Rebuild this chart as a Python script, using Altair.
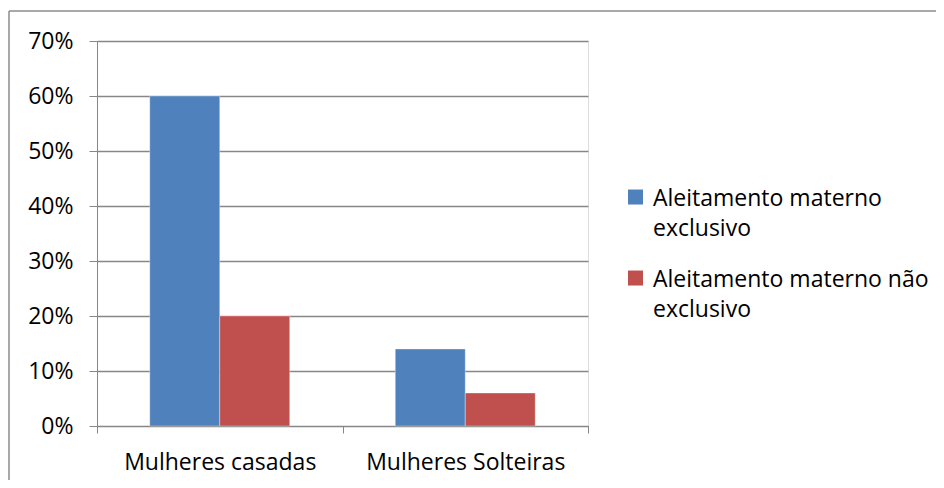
import altair as alt
import pandas as pd

categories = ["Mulheres casadas", "Mulheres Solteiras"]
series = ["Aleitamento materno exclusivo", "Aleitamento materno não exclusivo"]
exclusivo = [0.60, 0.14]
nao_exclusivo = [0.20, 0.06]
y_ticks = [0, 0.1, 0.2, 0.3, 0.4, 0.5, 0.6, 0.7]
colors = ["#4F81BD", "#C0504D"]

rows = []
for i, c in enumerate(categories):
    rows.append({"cat": c, "serie": series[0], "valor": exclusivo[i]})
    rows.append({"cat": c, "serie": series[1], "valor": nao_exclusivo[i]})
df = pd.DataFrame(rows)

FONT = "Open Sans"
FS = 23
GRAY = "#878787"

bars = alt.Chart(df).mark_bar(strokeWidth=1, strokeOpacity=0.35, stroke="white").encode(
    x=alt.X("cat:N", sort=categories, title=None,
            scale=alt.Scale(paddingInner=0, paddingOuter=0),
            axis=alt.Axis(labelAngle=0, tickBand="extent", tickSize=7, tickColor=GRAY,
                          domainColor=GRAY, labelFont=FONT, labelFontSize=FS,
                          labelColor="black", labelPadding=18, labelLimit=400,
                          grid=False)),
    xOffset=alt.XOffset("serie:N", sort=series,
                        scale=alt.Scale(paddingInner=0, paddingOuter=0.754)),
    y=alt.Y("valor:Q", title=None,
            scale=alt.Scale(domain=[0, 0.7], nice=False),
            axis=alt.Axis(values=y_ticks, format=".0%", tickSize=8, tickColor=GRAY,
                          domainColor=GRAY, gridColor=GRAY, gridWidth=1.3,
                          labelFont=FONT, labelFontSize=FS, labelColor="black",
                          labelPadding=16)),
    color=alt.Color("serie:N", sort=series,
                    scale=alt.Scale(domain=series, range=colors),
                    legend=alt.Legend(
                        title=None, orient="none", legendX=527, legendY=135,
                        symbolType="M-1,0.27H1V2.27H-1Z", symbolSize=225,
                        symbolStrokeWidth=0,
                        labelFont=FONT, labelFontSize=FS, labelColor="black",
                        labelBaseline="top",
                        labelLimit=500, labelOffset=6, rowPadding=16,
                        labelExpr="[slice(datum.label, 0, lastindexof(datum.label, ' ')), slice(datum.label, lastindexof(datum.label, ' ') + 1)]",
                    )),
)

frame_base = alt.Chart(alt.Data(values=[{}])).mark_rule(color="#8c8c8c", strokeWidth=1.5)
frame_left = frame_base.encode(x=alt.value(-88), y=alt.value(-30), y2=alt.value(2000))
frame_top = frame_base.encode(x=alt.value(-88), x2=alt.value(2000), y=alt.value(-30))

chart = alt.layer(frame_left, frame_top, bars).properties(
    width=491, height=385,
    autosize=alt.AutoSizeParams(type="none"),
    padding={"left": 89, "top": 33, "right": 348, "bottom": 54},
).configure_view(stroke=None).configure(
    style={"guide-label": {"lineHeight": 30}}
)

chart.save("out.html", embed_options={"renderer": "svg", "actions": False})
